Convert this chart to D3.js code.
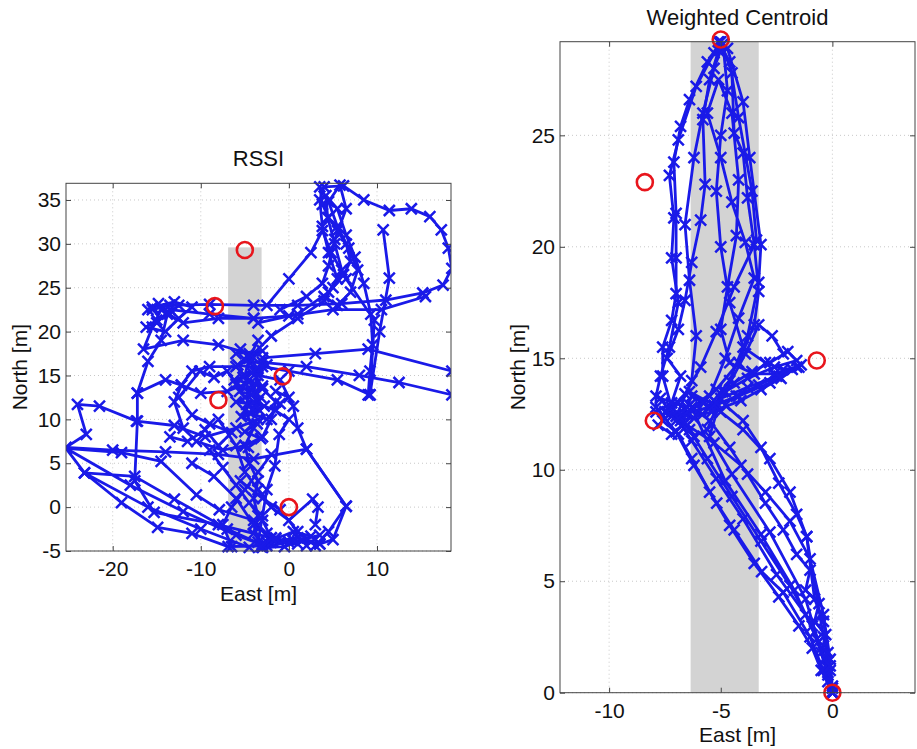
<!DOCTYPE html>
<html>
<head>
<meta charset="utf-8">
<script src="https://cdn.jsdelivr.net/npm/d3@7"></script>
<style>
  body { margin: 0; background: #fff; }
  text { font-family: "Liberation Sans", Arial, sans-serif; fill: #111; }
</style>
</head>
<body>
<svg id="vis" width="917" height="749"></svg>
<script>
// anchor nodes (red circles), East/North in metres
let anchors = [[-5, 29.3], [-8.4, 22.9], [-0.7, 14.9], [-8, 12.2], [0, 0]];

// grey corridor on each panel [x0, x1, y0, y1]
let rssiBand = [-6.9, -3.1, -5, 29.6];
let centroidBand = [-6.35, -3.3, 0, 29.2];

// tick values
let rssiXTicks = [-20, -10, 0, 10];
let rssiYTicks = [-5, 0, 5, 10, 15, 20, 25, 30, 35];
let centroidXTicks = [-10, -5, 0];
let centroidYTicks = [0, 5, 10, 15, 20, 25];

// RSSI estimated tracks
let rssiTracks = [
  [[-4.5,17],[-2,19.5],[1,21.5],[4,23.5],[5.5,26],[4.5,29],[3.8,32],[3.5,35],[4,36.5],[6.2,36.6],[8.5,35],[11.4,33.8],[13.9,34],[16,33.1],[17.3,31.6],[18.1,29.5],[18.5,27.2],[17.5,25.3],[15.2,24.4],[11,23.6],[6,23.2],[1,23],[-4,23],[-9,23.1],[-13.5,23],[-15.5,22.5]],
  [[-15,21],[-13.5,22.5],[-9,22],[-4,21.5],[-3.5,21],[1,22],[4.5,24.5],[6,27],[5.2,30],[4.4,33],[4.2,35.5],[5.5,34],[6.5,31],[7.5,28.5],[8.5,25.5],[9.3,22],[9.5,18.5],[9.2,15.5],[9,12.8]],
  [[-4,13],[-3.5,15.5],[-4.5,17.5],[-8,18.5],[-12,19],[-16.5,18],[-15.5,20.5],[-14.5,22.5],[-12,21],[-8,21.5],[-4,21.5],[0,21.8],[5,22.5],[10.5,22.5],[15.5,24]],
  [[-3.5,10],[-6,9],[-9.5,8],[-13,9.3],[-17.3,9.8],[-21.5,11.5],[-24,11.7],[-23,8.3],[-25.3,6.8],[-20,6.5],[-14,6.3],[-8,6],[-4,5.5],[2,6.6],[6.5,0.1],[5,-3.7],[3.5,-4.2],[1,-3.5],[-2.5,-4]],
  [[-2.5,-4.4],[-6.9,-4.5],[-11,-3],[-14.9,-2.3],[-19,0.5],[-23.2,3.9],[-25.3,6.7],[-19,6.2],[-14.5,5.2],[-10.5,1.4],[-7.9,-0.3],[-4,-1.5],[-2,-4],[0.5,-3.8],[3.5,-4.2]],
  [[-2,-3.5],[-8,-2],[-15.3,-0.6],[-17.5,3],[-17.2,9.8],[-17.2,13],[-16,16.6],[-14.5,19],[-13.8,22],[-12.5,23]],
  [[-3.5,12],[-4.5,14.5],[-6,16],[-9,16],[-11,15.5],[-12.2,13.9],[-13,12],[-12,9],[-10.5,7.5],[-7.5,6.5],[-5,7],[-3,8],[-2,10],[-1.5,12],[-3,13.5],[-4,15.5],[-4.5,17],[-3.5,19]],
  [[-4.5,17],[-5,15],[-4.5,13],[-5,11],[-4,9],[-5,7],[-4.5,5],[-3.5,3],[-4,1],[-3.5,-1],[-4,-3],[-3,-4.2],[-1.5,-3.5],[0,-4],[-3,-4.5]],
  [[-3,16.5],[2,16],[8,15],[12.5,14.2],[18.5,12.8]],
  [[-3,17],[3,17.5],[9,18],[18.5,15.5]],
  [[-3.5,15],[-1,14.5],[0.5,11.5],[1,9],[2,6.6],[6.5,0.1],[4.5,-2.8],[3,-4.4],[1,-2.8],[-1,-0.3],[-3,1],[-5.5,3]],
  [[-4,12],[-1.5,11],[0,10],[-1.1,8.3],[-1.6,4.7],[-2.5,2],[-3,-1],[-3.5,-4]],
  [[-2.5,23],[0,26],[2.5,29],[3.8,31.5],[4.8,29],[6.5,26],[9.7,21.3],[9.2,12.8]],
  [[3.5,36.5],[3.8,34.5],[4.5,33],[5.5,31.5],[6.5,30],[7,28],[6.2,26.5],[5,25],[4,24],[5.5,23],[7,24.5],[7.8,27],[6.8,29.5],[5.5,32],[4.5,34.8],[5.8,36.7],[6.5,34],[5.2,30.5],[4.5,27.5],[3.8,25.5],[2,24],[-1,22.5]],
  [[-16,22.5],[-14.8,23.2],[-13.5,22],[-15,21.3],[-16.2,20.5],[-14,20],[-12.5,21.5],[-11,22.8],[-13,23.4],[-15.5,22.8]],
  [[-25.3,6.7],[-18,2.5],[-12,-0.5],[-6,-3.2],[-3,-4.3],[-7,-2.5],[-13,0.9],[-17.5,3.5],[-23.2,3.9],[-16,0],[-10,-2.5],[-4.5,-4.6]],
  [[-5.5,18],[-4,17],[-5.8,16.2],[-3.5,15.8],[-5.2,14.8],[-3.8,14],[-5.6,13.2],[-3.2,12.5],[-4.8,11.7],[-3.3,11],[-5.4,10.3],[-3.6,9.5],[-5,8.6],[-3.2,7.8],[-4.6,6.8]],
  [[-6,17.5],[-3,17.8],[-5,16.8],[-2.5,16.2],[-4.2,15.3],[-6.2,14.5],[-3,13.8],[-4.2,12.8],[-6,12],[-2.8,11.5],[-4.5,10.8],[-2.5,10],[-1,11.8],[0,12.5],[-1.5,13.2]],
  [[-4,-2],[-2.5,-3],[-1,-4],[1,-4.2],[2.5,-3.3],[0.5,-2.8],[-1.5,-3.6],[-3,-4.6],[-0.5,-4.5],[1.5,-3.7],[3.5,-3.2],[2,-4.4]],
  [[-13.5,8],[-11.5,7.5],[-9.5,8.8],[-8,7],[-6.5,8.5],[-9,9.5],[-11,10.5],[-12.5,12.5],[-10.1,15.5],[-8.5,14.8],[-7,15.5],[-6,14],[-5,12.5]],
  [[-8,10],[-6,7],[-5,4],[-3.5,2],[-2,0],[0,-1.5],[2.7,0.9],[3.3,0],[3,-2]],
  [[10.7,31.6],[11.4,26.1],[10.3,20],[9.2,12.8],[5.5,14.5],[0,15.5],[-3,16]],
  [[-17.2,13],[-14,14.5],[-12.2,13.9],[-10,13],[-7,13.2],[-5,14]],
  [[-9,6.5],[-7.5,4.5],[-6,2.5],[-4.5,0.5],[-3,-1.5],[-2,-3.5]],
  [[-2,6],[-3.5,4],[-5,2],[-6.5,0],[-7.5,-2],[-6.5,-4.5]],
  [[-11,5],[-8.5,3.5],[-6,1],[-4,-2],[-3.2,-4.5]]
];

// Weighted centroid estimated tracks
let centroidTracks = [
  [[0,0],[-0.3,1.5],[-0.9,3],[-1.9,4.8],[-3.2,6.8],[-4.5,8.8],[-5.6,10.5],[-6.4,11.8],[-7.2,12.8],[-7.6,14.2],[-7.6,15.5],[-7.2,16.7],[-7,17.9],[-7,19.5],[-7,21.5],[-7.1,23.8],[-6.8,25.4],[-6.4,26.6],[-5.6,28.3],[-5,29.2],[-4.5,27.8],[-4.4,25.1],[-4,24.2],[-3.8,22.2],[-3.5,20.1],[-3.3,18],[-3.5,16.5],[-4.2,14.8],[-5.2,13.6],[-6.3,12.8],[-4.8,9.5],[-3.2,7.1],[-1.7,4.6],[-0.7,2.4],[-0.2,0.8],[0,0]],
  [[0,0.3],[-0.5,2],[-1.2,3.5],[-2.5,5.3],[-4,7.8],[-5.2,9.6],[-6.3,11.3],[-7,12.4],[-6.3,14],[-6.1,16],[-6.4,18.5],[-6.6,21],[-6.2,24],[-5.8,26],[-5.3,28],[-4.9,29.1],[-4.7,27],[-5,25],[-5.2,22.5],[-5,20],[-4.6,17.5],[-4,15.5],[-3,14.8],[-2.2,14.5],[-1.5,14.6],[-2.5,14.2],[-3.8,13.7],[-5,13.2],[-5.5,11.5],[-4.5,9.8],[-2.8,7.2],[-1.2,4.2],[-0.3,1.2],[0,0]],
  [[0,0],[-0.4,1],[-1,2.5],[-2.2,4.5],[-3.17,5.43],[-4.4,7.3],[-5.18,8.5],[-6.2,10.2],[-7,11.7],[-7.9,12.8],[-7.9,13.3],[-7.7,14.2],[-7.3,15.5],[-6.9,17.5],[-7.2,19.5],[-7.1,21.3],[-7.3,23.2],[-6.9,24.8],[-6.1,27.2],[-5.3,28.7],[-4.7,28.9],[-4,26.5],[-3.7,24],[-3.2,20.1],[-3.3,18.4],[-3.8,16],[-4.6,14],[-5.8,12.5]],
  [[-6.5,12.5],[-5.5,13.3],[-4.8,15],[-4.2,16.8],[-3.5,18.6],[-3.9,20.2],[-4.5,22],[-5,24],[-5.6,26],[-5.1,27.5],[-4.5,26],[-4.2,23],[-4.3,20.5],[-4.7,18.2],[-5,16.3],[-4.6,14.8],[-3.5,14.3],[-2.6,14.3],[-1.8,14.5],[-1.4,14.7],[-2.8,13.9],[-4.2,13.3],[-5.5,12.8],[-6.6,12.5]],
  [[0,0],[-0.1,1],[-0.4,2.5],[-1.15,7],[-1.9,9],[-2.8,10.5],[-4,11.8],[-5,12.6],[-6.3,13.3],[-6.7,12.4],[-7.5,12.6],[-6.5,12],[-5.3,11.2],[-4.1,10.2],[-3,9],[-1.9,7.7],[-1,6],[-0.4,3.5],[-0.1,1.5],[0,0.2]],
  [[-7.2,12.4],[-5.5,12.8],[-4.3,13.3],[-3.3,13.8],[-2.4,14.2],[-1.6,14.6],[-2.3,14.1],[-3.2,13.6],[-4.1,13.1],[-5.4,12.6],[-6.8,12.2],[-7.4,12.6],[-6.6,13.4],[-5.9,14.6],[-5.2,16.2],[-4.4,18.2],[-3.4,20.3],[-3.6,22.5],[-4.2,25.8],[-4.6,28.3],[-5.1,29.2]],
  [[0,0],[-0.2,0.5],[-0.1,1.2],[-0.5,1.8],[-0.3,2.6],[-0.8,3.2],[-0.6,4],[-1.2,4.6],[-1,5.5],[-1.6,6.2],[-2.2,7.3],[-3,8.5],[-3.8,9.8],[-4.6,11],[-5.5,12.2],[-6.4,12.9]],
  [[0,0],[-0.5,1],[-0.9,2],[-1.5,3],[-2.4,4.3],[-3.5,5.8],[-4.6,7.5],[-5.5,9],[-6.3,10.5],[-6.9,11.6],[-7.6,12.2],[-7.9,12.6],[-7.2,13],[-6.8,14.2],[-7.4,15],[-6.9,16.3],[-6.6,17.6],[-6.3,19.3],[-5.9,21.2],[-5.7,22.8],[-5.8,25.7],[-5.5,27.5],[-5.1,28.8]],
  [[-7.8,12],[-7.2,11.6],[-6.6,12.1],[-7.3,12.5],[-6.9,13],[-6.2,12.3],[-5.8,13],[-6.4,13.5],[-5.3,12.9],[-4.9,13.5],[-5.6,11.8],[-6.2,11.5],[-7,12.2],[-7.7,13.2],[-6.5,12.8]],
  [[-5.2,13],[-4.4,13.9],[-3.6,14.4],[-2.8,14.8],[-2,15.3],[-1.6,14.9],[-2.6,14.6],[-3.8,14.1],[-4.8,13.5],[-3.9,15.2],[-3.3,16.5],[-2.7,16],[-2.2,15.2]],
  [[0,0],[-0.2,1.8],[-0.4,3.2],[-0.8,4.2],[-1.15,7],[-1.6,8],[-2.4,9.4],[-3.2,11],[-4,12.2],[-4.8,12.9]]
];

let blue = "#1a1ae8";
let red = "#e8151c";

function panel(cfg) {
    let svg = d3.select("#vis");
    let x = d3.scaleLinear().domain(cfg.xDomain).range([cfg.left, cfg.right]);
    let y = d3.scaleLinear().domain(cfg.yDomain).range([cfg.bottom, cfg.top]);
    let g = svg.append("g");

    // grid
    g.append("g").selectAll("line").data(cfg.xTicks).enter().append("line")
        .attr("x1", d => x(d)).attr("x2", d => x(d))
        .attr("y1", cfg.top).attr("y2", cfg.bottom)
        .attr("stroke", "#c8c8c8").attr("stroke-dasharray", "1,3");
    g.append("g").selectAll("line").data(cfg.yTicks).enter().append("line")
        .attr("y1", d => y(d)).attr("y2", d => y(d))
        .attr("x1", cfg.left).attr("x2", cfg.right)
        .attr("stroke", "#c8c8c8").attr("stroke-dasharray", "1,3");

    // corridor
    let b = cfg.band;
    g.append("rect")
        .attr("x", x(b[0])).attr("width", x(b[1]) - x(b[0]))
        .attr("y", y(b[3])).attr("height", y(b[2]) - y(b[3]))
        .attr("fill", "#d3d3d3");

    let clipId = "clip" + cfg.name;
    svg.append("clipPath").attr("id", clipId).append("rect")
        .attr("x", cfg.left).attr("y", cfg.top - 6)
        .attr("width", cfg.right - cfg.left).attr("height", cfg.bottom - cfg.top + 12);

    let line = d3.line().x(d => x(d[0])).y(d => y(d[1]));
    let tracks = g.append("g").attr("clip-path", `url(#${clipId})`);
    tracks.selectAll("path.trk").data(cfg.tracks).enter().append("path")
        .attr("class", "trk")
        .attr("d", line)
        .attr("fill", "none").attr("stroke", blue)
        .attr("stroke-width", 2.8).attr("stroke-linejoin", "round");
    tracks.selectAll("path.mk").data(cfg.tracks.flat()).enter().append("path")
        .attr("class", "mk")
        .attr("transform", d => `translate(${x(d[0])},${y(d[1])})`)
        .attr("d", "M-5.5,-5.5L5.5,5.5M-5.5,5.5L5.5,-5.5")
        .attr("stroke", blue).attr("stroke-width", 2.5);

    g.selectAll("circle").data(anchors).enter().append("circle")
        .attr("cx", d => x(d[0])).attr("cy", d => y(d[1]))
        .attr("r", 8).attr("fill", "none")
        .attr("stroke", red).attr("stroke-width", 2.6);

    // axes, ticks inward on all four sides
    let fmt = d => String(d);
    let styleAxis = a => {
        a.select(".domain").remove();
        a.selectAll(".tick line").attr("stroke", "#444");
        a.selectAll(".tick text").attr("font-size", 21).attr("fill", "#111")
            .attr("font-family", "Liberation Sans, Arial, sans-serif");
    };
    g.append("g").attr("transform", `translate(0,${cfg.bottom})`)
        .call(d3.axisBottom(x).tickValues(cfg.xTicks).tickSize(-5).tickPadding(10).tickFormat(fmt))
        .call(styleAxis);
    g.append("g").attr("transform", `translate(0,${cfg.top})`)
        .call(d3.axisTop(x).tickValues(cfg.xTicks).tickSize(-5).tickFormat(""))
        .call(styleAxis);
    g.append("g").attr("transform", `translate(${cfg.left},0)`)
        .call(d3.axisLeft(y).tickValues(cfg.yTicks).tickSize(-5).tickPadding(5).tickFormat(fmt))
        .call(styleAxis);
    g.append("g").attr("transform", `translate(${cfg.right},0)`)
        .call(d3.axisRight(y).tickValues(cfg.yTicks).tickSize(-5).tickFormat(""))
        .call(styleAxis);

    g.append("rect")
        .attr("x", cfg.left).attr("y", cfg.top)
        .attr("width", cfg.right - cfg.left).attr("height", cfg.bottom - cfg.top)
        .attr("fill", "none").attr("stroke", "#444").attr("stroke-width", 1);

    let cx = (cfg.left + cfg.right) / 2;
    g.append("text").attr("x", cx).attr("y", cfg.titleY)
        .attr("text-anchor", "middle").attr("font-size", 22).text(cfg.title);
    g.append("text").attr("x", cx).attr("y", cfg.xLabelY)
        .attr("text-anchor", "middle").attr("font-size", 21).text("East [m]");
    g.append("text")
        .attr("transform", `translate(${cfg.yLabelX},${(cfg.top + cfg.bottom) / 2}) rotate(-90)`)
        .attr("text-anchor", "middle").attr("font-size", 21).text("North [m]");
}

panel({
    name: "rssi", title: "RSSI",
    left: 66, right: 451, top: 183.3, bottom: 551,
    xDomain: [-25.3, 18.4], yDomain: [-5, 36.9],
    xTicks: rssiXTicks, yTicks: rssiYTicks,
    band: rssiBand, tracks: rssiTracks,
    titleY: 166, xLabelY: 601, yLabelX: 27
});

panel({
    name: "wc", title: "Weighted Centroid",
    left: 560, right: 915, top: 41.7, bottom: 692.7,
    xDomain: [-12.2, 3.7], yDomain: [0, 29.2],
    xTicks: centroidXTicks, yTicks: centroidYTicks,
    band: centroidBand, tracks: centroidTracks,
    titleY: 25, xLabelY: 742, yLabelX: 525
});
</script>
</body>
</html>
